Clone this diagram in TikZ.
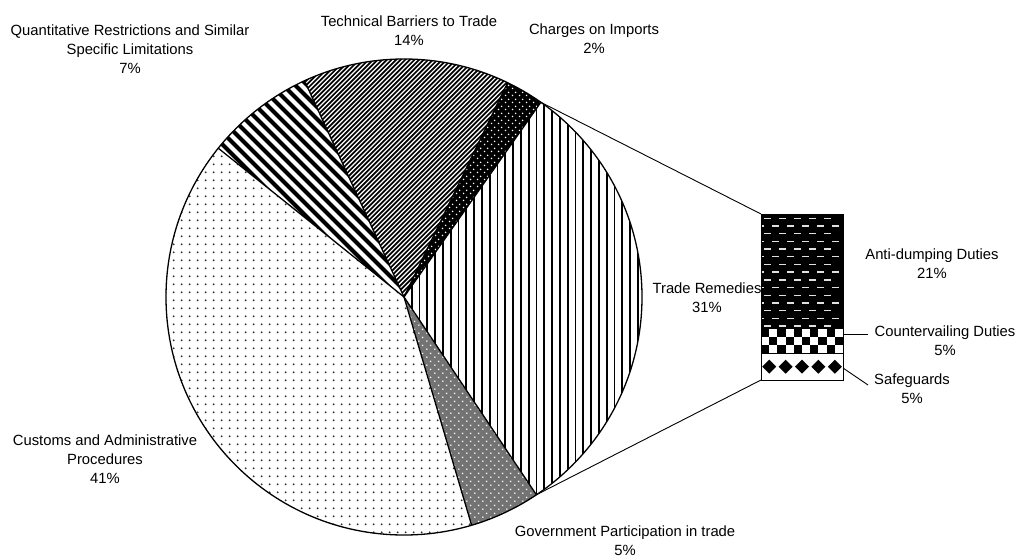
\documentclass[tikz,border=0pt]{standalone}
\usepackage{fontspec}
\setmainfont{Liberation Sans}
\usetikzlibrary{patterns.meta}

% small grey dots on a square grid
\pgfdeclarepattern{
  name=greydots,
  bottom left={\pgfpointorigin},
  top right={\pgfpoint{7.7pt}{7.7pt}},
  tile size={\pgfpoint{7.7pt}{7.7pt}},
  code={\pgfpathcircle{\pgfpoint{3.85pt}{3.85pt}}{1.05pt}\pgfusepath{fill}}
}
% dense staggered dots
\pgfdeclarepattern{
  name=staggerdots,
  bottom left={\pgfpointorigin},
  top right={\pgfpoint{7pt}{7pt}},
  tile size={\pgfpoint{7pt}{7pt}},
  code={\pgfpathcircle{\pgfpoint{1.75pt}{1.75pt}}{0.9pt}
        \pgfpathcircle{\pgfpoint{5.25pt}{5.25pt}}{0.9pt}\pgfusepath{fill}}
}
% sparser staggered dots
\pgfdeclarepattern{
  name=sparsedots,
  bottom left={\pgfpointorigin},
  top right={\pgfpoint{8.2pt}{8.2pt}},
  tile size={\pgfpoint{8.2pt}{8.2pt}},
  code={\pgfpathcircle{\pgfpoint{2.05pt}{2.05pt}}{0.9pt}
        \pgfpathcircle{\pgfpoint{6.15pt}{6.15pt}}{0.9pt}\pgfusepath{fill}}
}

\begin{document}
\begin{tikzpicture}[x=1pt,y=1pt,
  lbl/.style={font=\fontsize{14.8}{18.8}\selectfont, align=center, inner sep=0pt, anchor=north},
  edge/.style={line width=1.3pt},
  conn/.style={line width=0.9pt},
  barline/.style={line width=1pt},
  slice/.style 2 args={insert path={(C) -- ++(#1:238) arc[start angle=#1, end angle=#2, radius=238] -- cycle}}]
\useasboundingbox (0,0) rectangle (1017,-559);
\coordinate (C) at (404,-297);

% Trade Remedies: thin vertical lines
\begin{scope}
  \clip[slice={-56.2}{54.9}];
  \fill[white] (400,-40) rectangle (650,-540);
  \foreach \k in {0,...,31} \fill (403+7.8*\k,-40) rectangle ++(1.7,-500);
\end{scope}

% Charges on Imports: black with white dots
\fill[black, slice={54.9}{64.2}];
\fill[pattern=staggerdots, pattern color=white, slice={54.9}{64.2}];

% Technical Barriers to Trade: dense rising diagonals
\begin{scope}
  \clip[slice={64.2}{114.7}];
  \fill[white] (280,-40) rectangle (520,-310);
  \foreach \k in {0,...,100} \draw[line width=1.7pt] (350+4.6*\k-400,-400) -- ++(500,500);
\end{scope}

% Quantitative Restrictions: wide falling diagonals
\begin{scope}
  \clip[slice={114.7}{141.3}];
  \fill[white] (200,-40) rectangle (420,-310);
  \foreach \k in {0,...,36} \draw[line width=4pt] (-90+12*\k+400,-400) -- ++(-500,500);
\end{scope}

% Customs and Administrative Procedures: sparse dots
\fill[white, slice={141.3}{286.5}];
\fill[pattern=greydots, pattern color=black!80, slice={141.3}{286.5}];

% Government Participation: grey with white dots
\fill[black!55, slice={286.5}{303.8}];
\fill[pattern=sparsedots, pattern color=white, slice={286.5}{303.8}];

% pie outline and slice borders
\draw[edge] (C) circle[radius=238];
\foreach \a in {54.9,64.2,114.7,141.3,286.5,303.8}
  \draw[edge] (C) -- ++(\a:238);

% breakdown bar corners
\coordinate (barTL) at (761,-214);
\coordinate (barBL) at (761,-380);
\coordinate (barBR) at (843,-380);

% Anti-dumping Duties: black with light dashes
\fill[black] (761,-214) rectangle (843,-328.7);
\begin{scope}
  \clip (761,-214) rectangle (843,-328.7);
  \foreach \j in {0,2,...,14} \foreach \k in {0,...,4}
    \fill[white!88!black] (764+15*\k,-217.5-7.7*\j) rectangle ++(7,-1.4);
  \foreach \j in {1,3,...,13} \foreach \k in {0,...,5}
    \fill[white!88!black] (756.5+15*\k,-217.5-7.7*\j) rectangle ++(7,-1.4);
\end{scope}

% Countervailing Duties: checkerboard
\fill[white] (761,-328.7) rectangle (843,-353.3);
\foreach \i in {0,...,9} \foreach \j in {0,1,2} {
  \pgfmathtruncatemacro\sq{\i+\j}
  \ifodd\sq\else \fill (761+8.2*\i,-328.7-8.2*\j) rectangle ++(8.2,-8.2);\fi
}

% Safeguards: diamonds
\fill[white] (761,-353.3) rectangle (843,-380);
\foreach \k in {0,...,4}
  \fill (769.2+16.4*\k,-366.7) +(-7,0) -- +(0,7) -- +(7,0) -- +(0,-7) -- cycle;

% bar borders
\draw[barline] (barTL) rectangle (barBR);
\draw[barline] (761,-328.7) -- (843,-328.7);
\draw[barline] (761,-353.3) -- (843,-353.3);

% connectors from the pie to the bar
\path (C) ++(54.9:238) coordinate (pTop);
\path (C) ++(-56.2:238) coordinate (pBot);
\draw[conn] (pTop) -- (barTL);
\draw[conn] (pBot) -- (barBL);

% leader lines
\coordinate (cvA) at (843,-334);
\coordinate (cvB) at (868,-334);
\coordinate (sgA) at (843,-368);
\coordinate (sgB) at (868,-385);
\draw[conn] (cvA) -- (cvB);
\draw[conn] (sgA) -- (sgB);

% labels
\node[lbl] (tTech) at (409,-15.6) {Technical Barriers to Trade\\14\%};
\node[lbl] (tQuant) at (130,-24.6) {Quantitative Restrictions and Similar\\Specific Limitations\\7\%};
\node[lbl] (tChg) at (594,-23.6) {Charges on Imports\\2\%};
\node[lbl] (tTR) at (707,-282.6) {Trade Remedies\\31\%};
\node[lbl] (tAD) at (932,-248.6) {Anti-dumping Duties\\21\%};
\node[lbl] (tCV) at (945,-325.6) {Countervailing Duties\\5\%};
\node[lbl] (tSG) at (912,-373.6) {Safeguards\\5\%};
\node[lbl] (tCust) at (105,-434.6) {Customs and Administrative\\Procedures\\41\%};
\node[lbl] (tGov) at (625,-525.6) {Government Participation in trade\\5\%};
\end{tikzpicture}
\end{document}
